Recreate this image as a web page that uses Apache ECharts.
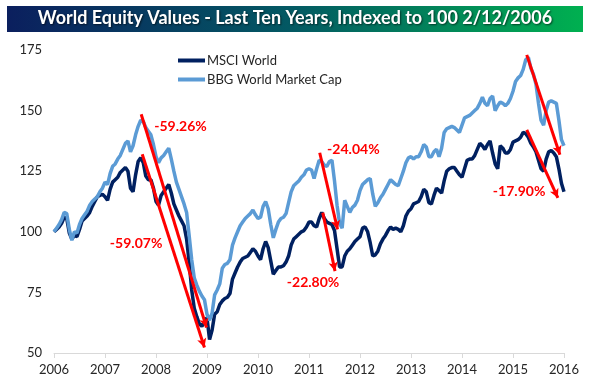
<!DOCTYPE html>
<html><head><meta charset="utf-8">
<script src="https://cdn.jsdelivr.net/npm/echarts@6/dist/echarts.min.js"></script>
<style>html,body{margin:0;padding:0;background:#fff}#c{width:590px;height:385px}</style>
</head><body><div id="c"></div>
<script>
const startYear = 2006, stepYear = 0.05;
const msciWorld = [
100,101,102,103.5,106,105.5,99.5,97,98.5,98,101,104.5,105.5,106.5,108,110.5,112.5,114.5,115,115.5,
114.5,113,117.5,120.5,121.5,122.5,124.5,125.5,126.5,125,118,116.5,123.5,129,130.5,128.5,123,121.5,121.5,118,
112.5,111,115,116.5,118,119.5,116,111.5,109,106.5,104.5,102.5,97,87.5,76,68.5,65,62,61,63,
64.5,55.5,59.5,66,67,70,71.5,72.5,73,74.5,80.5,83,85.5,87.5,89,89.5,90,91.5,93,92,
90,88.5,93,96,93.5,88,82.5,84,85.5,85.5,86,87.5,90,94.5,97,98,99,100,100.5,102,
104,104,102.5,102,105.5,108,105.5,104,103.5,103,100.5,93,85.5,85.5,90,92,93,94.5,96,97,
98,101.5,102,100,95.5,90,90.5,92,95,97,98.5,100.5,102,101,101.5,101,100,102.5,106.5,108.5,
109.5,111.5,112,112.5,114.5,117.5,116.5,112,111.5,115,118,117,116,121,125,126,126.5,126.5,125,123.5,
122.5,126,129.5,130,130,131.5,134,136.5,135.5,134,136,137.5,132.5,128,126,135.5,134.5,132.5,132.5,134,
137,137.5,138,139,141,140.5,139,136.5,135,133,129.5,126,125,130,133,133.5,132.5,131,126,120,
116.5];
const bbgWorldCap = [
100,101.5,103,105,108,107.5,101,96.5,100,99.5,103,105.5,107,108.5,111,112.5,113.5,114.5,116.5,118,
120.5,119.5,124,127,128,130,131.5,134,136.5,137.5,133,135.5,140,143.5,146,145.5,143,141.5,140,136,
131,128.5,130.5,131.5,133,134.5,130,125,120.5,117.5,114.5,111.5,108,98.5,88.5,81,78,75.5,73.5,72,
66,63.5,66.5,74,76,78.5,85,86.5,87,88.5,94.5,97.5,100,102.5,104,105.5,106.5,107.5,109,107,
105.5,106,110.5,112.5,109.5,103,97.5,101,104,105.5,106,107.5,112,116.5,119,120,121,122.5,123.5,125.5,
126,125.5,122,126,129.5,129,127.5,127,129,129.5,121,111,103.5,101.5,113,110.5,108,110,111,113,
117,119.5,120.5,121.5,122,115.5,110.5,112,114,115.5,117.5,119.5,121.5,120.5,119.5,119,122,125,128.5,130.5,
131,130,131,131,133,136,135,131,131,133,134,131,134.5,141,142.5,143,143.5,143,142,141,
144,147,147.5,148,149,150,151,153,155.5,153,152,155,156,150,152,153.5,153,152,153,155,
158,162,163.5,164.5,167,171,172,167.5,165,161,153,146,144,150,153.5,154,153.5,153,146,138,
135.5];
const yearTicks = [2006, 2007, 2008, 2009, 2010, 2011, 2012, 2013, 2014, 2015, 2016];
const valueTicks = [50, 75, 100, 125, 150, 175];
const arrowFrom = [[2007.71, 148.5], [2007.73, 132], [2011.21, 132.6], [2011.27, 107.9], [2015.27, 173], [2015.27, 142]];
const arrowTo   = [[2008.99, 60.5], [2008.95, 52.3], [2011.56, 101], [2011.51, 83.8], [2015.92, 131.8], [2015.88, 114]];
const dropTexts = ['-59.26%', '-59.07%', '-24.04%', '-22.80%', '-22.63%', '-17.90%'];
const dropAt = [[2008.48, 143.4], [2007.61, 95.0], [2011.87, 133.9], [2011.08, 78.9], [2015.55, 177.7], [2015.12, 116.5]];

const dates = msciWorld.map((_, i) => +(startYear + i * stepYear).toFixed(2));
const FONT = 'Lato, "Liberation Sans", sans-serif';

const chart = echarts.init(document.getElementById('c'), null, {renderer: 'canvas'});
chart.setOption({
  animation: false,
  backgroundColor: '#ffffff',
  textStyle: {fontFamily: FONT},
  graphic: [
    {type: 'rect', left: 7, top: 6, shape: {width: 576, height: 26}, z: 10,
     style: {fill: new echarts.graphic.LinearGradient(0, 0, 1, 0, [
       {offset: 0, color: '#0b1f5e'}, {offset: 0.5, color: '#035a63'}, {offset: 1, color: '#00b050'}])}},
    {type: 'text', left: 'center', top: 9, z: 11,
     style: {text: 'World Equity Values - Last Ten Years, Indexed to 100 2/12/2006', fill: '#ffffff',
       font: 'bold 18px ' + FONT, textShadowColor: 'rgba(0,0,0,0.6)', textShadowBlur: 2, textShadowOffsetX: 1, textShadowOffsetY: 1}}
  ],
  legend: {
    data: ['MSCI World', 'BBG World Market Cap'],
    orient: 'vertical', left: 173, top: 49, itemGap: 6,
    itemWidth: 27, itemHeight: 4, icon: 'rect',
    textStyle: {fontSize: 13, color: '#262626', fontFamily: FONT, padding: [0, 0, 0, -3]}
  },
  grid: {left: 54, right: 26, top: 50, bottom: 32, containLabel: false},
  xAxis: {
    type: 'value', min: yearTicks[0], max: yearTicks[yearTicks.length - 1], interval: 1,
    axisLine: {show: true, lineStyle: {color: '#d9d9d9', width: 1}},
    axisTick: {show: true, length: 5, lineStyle: {color: '#d9d9d9'}},
    splitLine: {show: false},
    axisLabel: {fontSize: 13, color: '#262626', margin: 10, formatter: v => String(Math.round(v))}
  },
  yAxis: {
    type: 'value', min: valueTicks[0], max: valueTicks[valueTicks.length - 1], interval: 25,
    axisLine: {show: false}, axisTick: {show: false}, splitLine: {show: false},
    axisLabel: {fontSize: 13, color: '#262626', margin: 12}
  },
  series: [
    {name: 'MSCI World', type: 'line', showSymbol: false, symbol: 'none',
     data: dates.map((d, i) => [d, msciWorld[i]]),
     lineStyle: {color: '#002060', width: 3.5}, itemStyle: {color: '#002060'}, z: 2},
    {name: 'BBG World Market Cap', type: 'line', showSymbol: false, symbol: 'none',
     data: dates.map((d, i) => [d, bbgWorldCap[i]]),
     lineStyle: {color: '#5b9bd5', width: 3.5}, itemStyle: {color: '#5b9bd5'}, z: 3},
    {name: 'drops', type: 'line', data: [], z: 5, silent: true,
     markLine: {
       silent: true, symbol: ['none', 'arrow'], symbolSize: [7, 9], animation: false,
       lineStyle: {color: '#ff0000', width: 3, type: 'solid'}, label: {show: false},
       data: arrowFrom.map((f, i) => [{coord: f}, {coord: arrowTo[i]}])
     },
     markPoint: {
       silent: true, symbol: 'rect', symbolSize: 1, itemStyle: {color: 'rgba(0,0,0,0)'}, animation: false,
       label: {show: true, position: 'inside', color: '#ff0000', fontWeight: 'bold', fontSize: 14, fontFamily: FONT,
               formatter: p => p.name},
       data: dropAt.map((c, i) => ({name: dropTexts[i], coord: c}))
     }}
  ]
});
</script></body></html>
